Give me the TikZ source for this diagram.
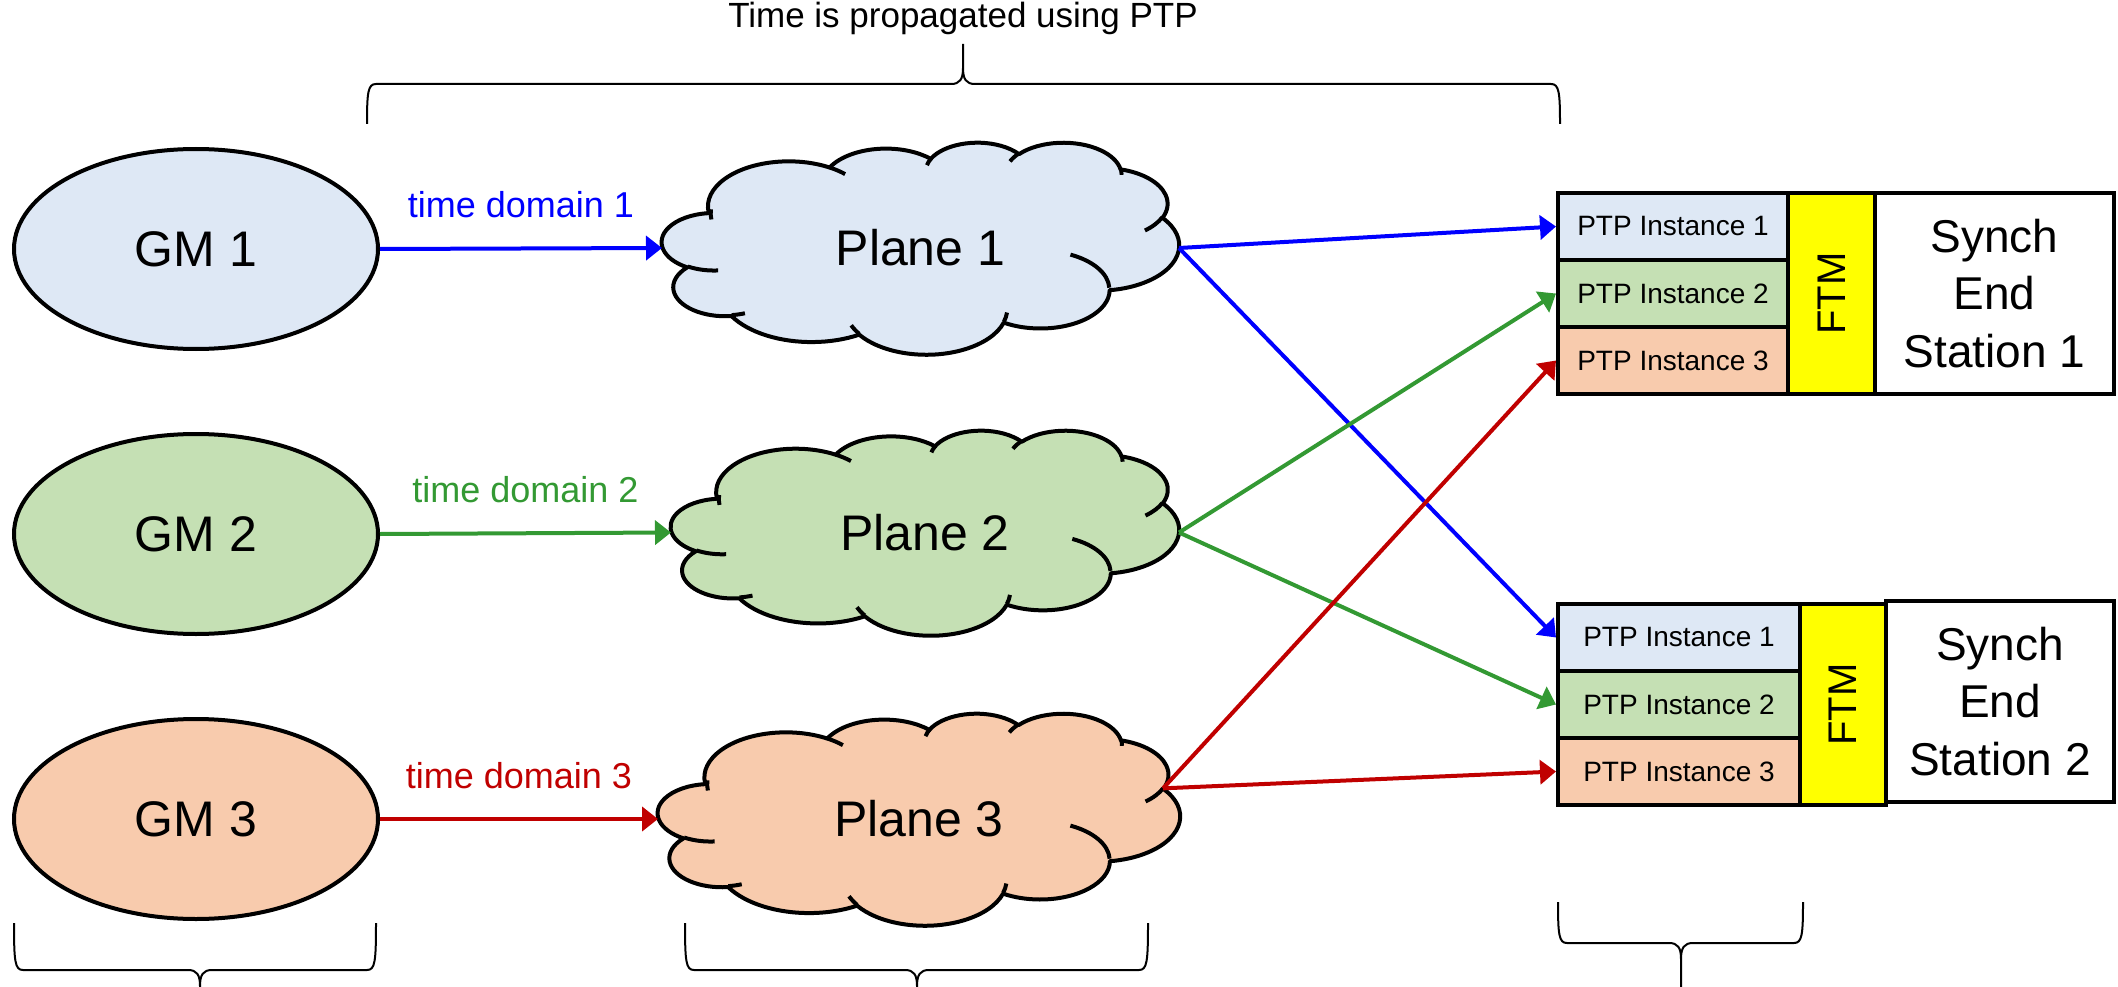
\documentclass[tikz,border=0pt]{standalone}
\usepackage{fontspec}
\setmainfont{Liberation Sans}
\usetikzlibrary{arrows.meta,shapes.geometric}

\definecolor{fillblue}{HTML}{DEE8F5}
\definecolor{fillgreen}{HTML}{C5E0B4}
\definecolor{fillorange}{HTML}{F8CBAD}
\definecolor{lineblue}{HTML}{0000FF}
\definecolor{linegreen}{HTML}{339933}
\definecolor{linered}{HTML}{C00000}
\definecolor{ftmyellow}{HTML}{FFFF00}

% one elliptical bump of the cloud outline; angles are given as seen on the ellipse
\newcommand\cloudarc[4]{arc[x radius=#1, y radius=#2,
  start angle={atan2(#1*sin(#3),#2*cos(#3))},
  delta angle={mod(atan2(#1*sin(#3+#4),#2*cos(#3+#4))-atan2(#1*sin(#3),#2*cos(#3))+720,360)}]}

% cloud outline in a 432 x 432 box: #1,#2 top-left corner, #3,#4 scale, #5 fill, #6 name
\newcommand\planecloud[6]{%
  \begin{scope}[shift={(#1,#2)}, x=#3pt, y=-#4pt]
    \draw[cloudline, fill=#5] (39.00,143.70)
      \cloudarc{67.53}{91.90}{-190.4875}{123.7805}
      \cloudarc{53.33}{72.67}{-144.1024}{89.9452}
      \cloudarc{43.65}{59.45}{-145.8079}{99.7230}
      \cloudarc{48.57}{65.95}{-130.9861}{117.2417}
      \cloudarc{53.33}{72.73}{-78.7089}{109.0269}
      \cloudarc{67.75}{92.20}{-46.2673}{130.2690}
      \cloudarc{57.85}{78.67}{0.6250}{114.0333}
      \cloudarc{67.52}{92.15}{22.4516}{115.1726}
      \cloudarc{77.20}{105.43}{66.2426}{75.7110}
      \cloudarc{43.60}{59.18}{-274.9421}{146.7356}
      \cloudarc{43.45}{59.45}{-246.8285}{152.5189}
      -- cycle;
    \draw[cloudline]
      (46.93,261.77) \cloudarc{43.45}{59.45}{86.7420}{26.4295}
      (69.28,348.99) \cloudarc{43.60}{59.18}{73.6105}{11.4475}
      (164.78,390.90) \cloudarc{67.52}{92.15}{137.6242}{14.0811}
      (288.27,347.51) \cloudarc{67.52}{92.15}{6.4533}{15.9984}
      (341.29,229.54) \cloudarc{57.85}{78.67}{-70.2924}{66.9185}
      (417.98,153.54) \cloudarc{53.33}{72.73}{30.3180}{27.7515}
      (383.24,54.26) \cloudarc{48.57}{65.95}{-13.7443}{14.8589}
      (290.78,39.52) \cloudarc{48.57}{65.95}{-149.1815}{18.1954}
      (221.41,47.20) \cloudarc{43.65}{59.45}{-163.4943}{17.6864}
      (140.00,51.92) \cloudarc{67.53}{91.90}{-66.7070}{12.3194}
      (41.27,157.89) \cloudarc{67.53}{91.90}{-190.4875}{17.5881};
    \coordinate (#6-notch) at (417.98,153.54);
  \end{scope}}

% curly brace: #1 left end x, #2 right end x, #3 tip x, #4 y of ends, #5 y of bar, #6 y of tip
\newcommand\curlybrace[6]{%
  \draw[bracket] (#1,#4) .. controls (#1,{#5-8*sign(#5-#4)}) and ({#1+1},#5) .. ({#1+9},#5)
    -- ({#3-12},#5) .. controls ({#3-3},#5) and (#3,{#5+5*sign(#5-#4)}) .. (#3,{#5+16*sign(#5-#4)})
    -- (#3,#6)
    (#2,#4) .. controls (#2,{#5-8*sign(#5-#4)}) and ({#2-1},#5) .. ({#2-9},#5)
    -- ({#3+12},#5) .. controls ({#3+3},#5) and (#3,{#5+5*sign(#5-#4)}) .. (#3,{#5+16*sign(#5-#4)});}

\tikzset{
  gm/.style={ellipse, draw, line width=4pt, minimum width=364pt, minimum height=200pt,
    inner sep=0pt, font=\fontsize{50}{60}\selectfont},
  planetext/.style={rectangle, inner sep=0pt, outer sep=0pt, font=\fontsize{50}{60}\selectfont},
  cloudline/.style={line width=4pt, line join=round},
  inst/.style={rectangle, draw, line width=4pt, minimum height=67pt, inner sep=0pt,
    font=\fontsize{28}{34}\selectfont},
  ftm/.style={rectangle, draw, fill=ftmyellow, rotate=90, line width=4pt, inner sep=0pt,
    minimum width=201pt, font=\fontsize{40}{48}\selectfont},
  station/.style={rectangle, draw, fill=white, line width=4pt, inner sep=0pt, align=center,
    minimum height=201pt, font=\fontsize{46}{57.5}\selectfont},
  conn/.style={line width=4pt, -{Triangle[length=16pt,width=24pt]}},
  dlabel/.style={anchor=base, yshift=31pt, font=\fontsize{36}{43}\selectfont},
  bracket/.style={line width=2pt},
  caption/.style={anchor=base, font=\fontsize{35}{42}\selectfont}
}

\begin{document}
\begin{tikzpicture}[x=1pt, y=-1pt]
\useasboundingbox (0,0) rectangle (2118,987);

% grandmasters
\node[gm, fill=fillblue]   (gm1) at (196,249) {GM 1};
\node[gm, fill=fillgreen]  (gm2) at (196,534) {GM 2};
\node[gm, fill=fillorange] (gm3) at (196,819) {GM 3};

% planes
\planecloud{662}{142}{1.1968}{0.4907}{fillblue}{p1}
\node[planetext, minimum width=517pt, minimum height=212pt] (p1) at (920.5,248) {Plane 1};
\planecloud{671}{430}{1.1759}{0.4745}{fillgreen}{p2}
\node[planetext, minimum width=508pt, minimum height=205pt] (p2) at (925,532.5) {Plane 2};
\planecloud{658}{713}{1.2083}{0.4907}{fillorange}{p3}
\node[planetext, minimum width=522pt, minimum height=212pt] (p3) at (919,819) {Plane 3};

% end station 1
\node[station, minimum width=239pt] (st1) at (1994.5,293.5) {Synch\\End\\Station 1};
\node[ftm, minimum height=87pt] (ftm1) at (1831.5,293.5) {FTM};
\node[inst, fill=fillblue,   minimum width=230pt] (s1a) at (1673,226.5) {PTP Instance 1};
\node[inst, fill=fillgreen,  minimum width=230pt] (s1b) at (1673,293.5) {PTP Instance 2};
\node[inst, fill=fillorange, minimum width=230pt] (s1c) at (1673,360.5) {PTP Instance 3};

% end station 2
\node[station, minimum width=228pt] (st2) at (2000,701.5) {Synch\\End\\Station 2};
\node[ftm, minimum height=86pt] (ftm2) at (1843,704.5) {FTM};
\node[inst, fill=fillblue,   minimum width=242pt] (s2a) at (1679,637.5) {PTP Instance 1};
\node[inst, fill=fillgreen,  minimum width=242pt] (s2b) at (1679,704.5) {PTP Instance 2};
\node[inst, fill=fillorange, minimum width=242pt] (s2c) at (1679,771.5) {PTP Instance 3};

% time domains
\draw[conn, lineblue]  (gm1.east) -- node[dlabel, text=lineblue] {time domain 1} (p1.west);
\draw[conn, linegreen] (gm2.east) -- node[dlabel, text=linegreen] {time domain 2} (p2.west);
\draw[conn, linered]   (gm3.east) -- node[dlabel, text=linered] {time domain 3} (p3.west);

\draw[conn, lineblue]  (p1.east) -- (s1a.west);
\draw[conn, lineblue]  (p1.east) -- (s2a.west);
\draw[conn, linegreen] (p2.east) -- (s1b.west);
\draw[conn, linegreen] (p2.east) -- (s2b.west);
\draw[conn, linered]   (p3-notch) -- (s1c.west);
\draw[conn, linered]   (p3-notch) -- (s2c.west);

% braces
\node[caption] (cap) at (963,28) {Time is propagated using PTP};
\curlybrace{367}{1560}{963}{124}{84}{44}
\curlybrace{14}{376}{200}{923}{970}{987}
\curlybrace{685}{1148}{917}{923}{970}{987}
\curlybrace{1558}{1803}{1681}{902}{943}{987}
\end{tikzpicture}
\end{document}
